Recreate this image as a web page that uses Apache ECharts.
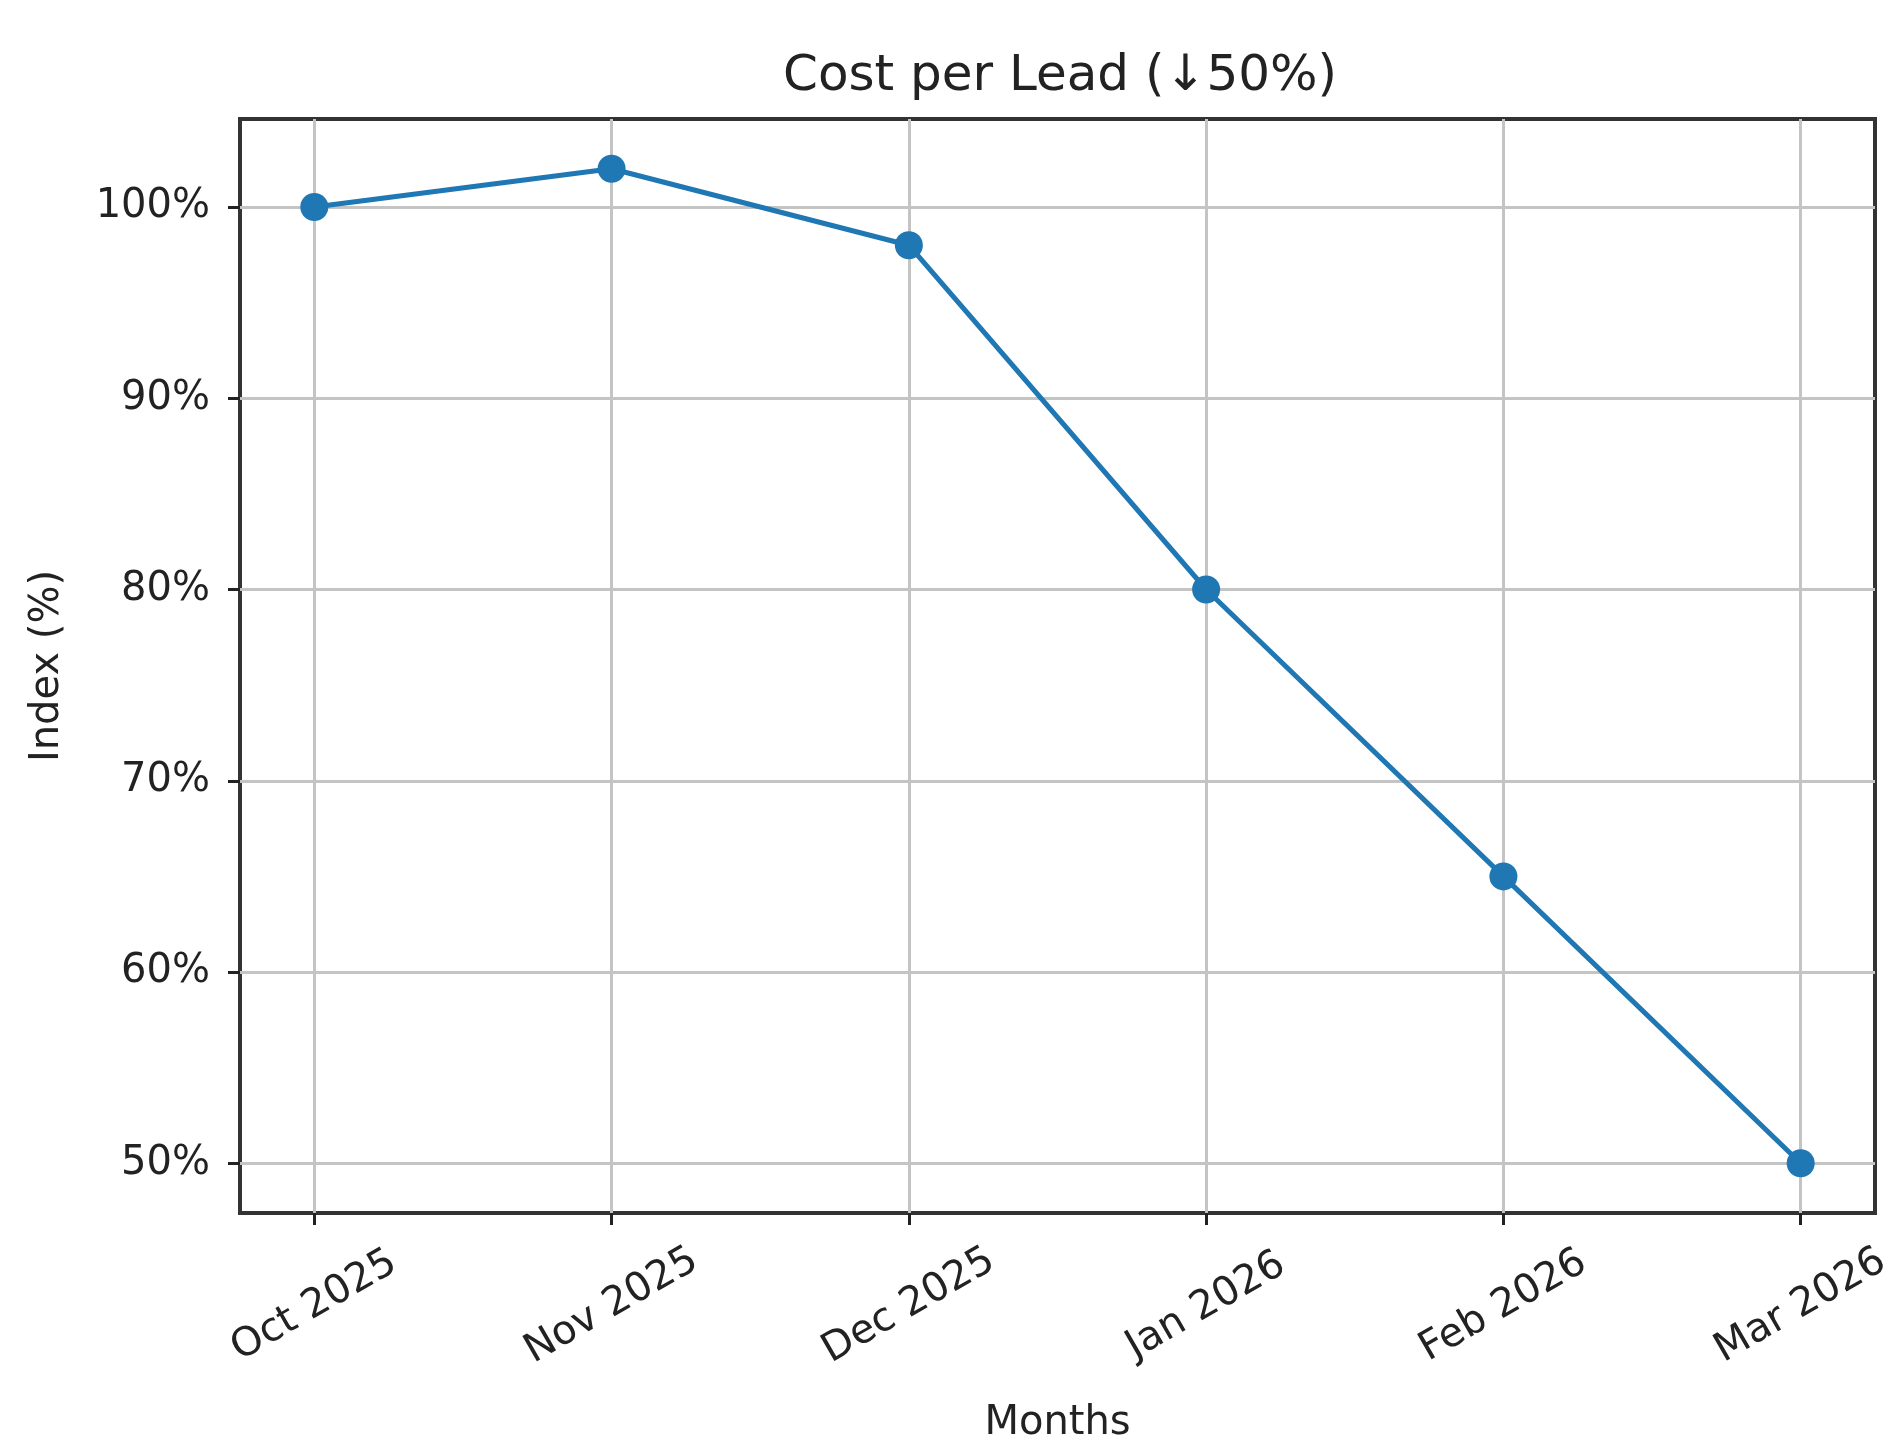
<!DOCTYPE html>
<html>
<head>
<meta charset="utf-8">
<script src="https://cdn.jsdelivr.net/npm/echarts@6/dist/echarts.min.js"></script>
<style>
html,body{margin:0;padding:0;background:#fff;}
#chart{width:1884px;height:1441px;}
</style>
</head>
<body>
<div id="chart"></div>
<script>
const categories = ["Oct 2025", "Nov 2025", "Dec 2025", "Jan 2026", "Feb 2026", "Mar 2026"];
const values = [100, 102, 98, 80, 65, 50];
const yTicks = [50, 60, 70, 80, 90, 100];

const xIdx = categories.map((c, i) => i);
const seriesData = values.map((v, i) => [i, v]);
const font = 'DejaVu Sans';

const chart = echarts.init(document.getElementById('chart'));
chart.setOption({
  backgroundColor: '#fff',
  animation: false,
  title: {
    text: 'Cost per Lead (\u219350%)',
    left: 1055, top: 47, textAlign: 'center',
    textStyle: {fontFamily: font, fontSize: 50, fontWeight: 'normal', color: '#222'}
  },
  grid: {
    left: 240, right: 9, top: 119, bottom: 228,
    containLabel: false, outerBoundsMode: 'none',
    show: true, borderColor: '#333', borderWidth: 4, backgroundColor: 'transparent'
  },
  xAxis: {
    type: 'value', min: -0.25, max: 5.25,
    name: 'Months', nameLocation: 'middle', nameGap: 191,
    nameTextStyle: {fontFamily: font, fontSize: 40, color: '#222'},
    axisLine: {show: false, onZero: false},
    axisTick: {show: true, length: 12, lineStyle: {color: '#222', width: 3}, customValues: xIdx},
    axisLabel: {
      customValues: xIdx, rotate: 30, margin: 93,
      align: 'center', verticalAlign: 'middle',
      fontFamily: font, fontSize: 40, color: '#222',
      formatter: v => categories[Math.round(v)]
    },
    splitLine: {show: true, lineStyle: {color: '#c4c4c4', width: 3}}
  },
  yAxis: {
    type: 'value', min: 47.4, max: 104.6,
    name: 'Index (%)', nameLocation: 'middle', nameGap: 172, nameRotate: 90,
    nameTextStyle: {fontFamily: font, fontSize: 40, color: '#222'},
    axisLine: {show: false, onZero: false},
    axisTick: {show: true, length: 12, lineStyle: {color: '#222', width: 3}, customValues: yTicks},
    axisLabel: {
      customValues: yTicks, margin: 30,
      fontFamily: font, fontSize: 40, color: '#222',
      formatter: v => Math.round(v) + '%'
    },
    splitLine: {show: true, lineStyle: {color: '#c4c4c4', width: 3}}
  },
  series: [{
    type: 'line',
    data: seriesData,
    symbol: 'circle', symbolSize: 28,
    lineStyle: {color: '#1f77b4', width: 5},
    itemStyle: {color: '#1f77b4'},
    z: 5
  }]
});
</script>
</body>
</html>
